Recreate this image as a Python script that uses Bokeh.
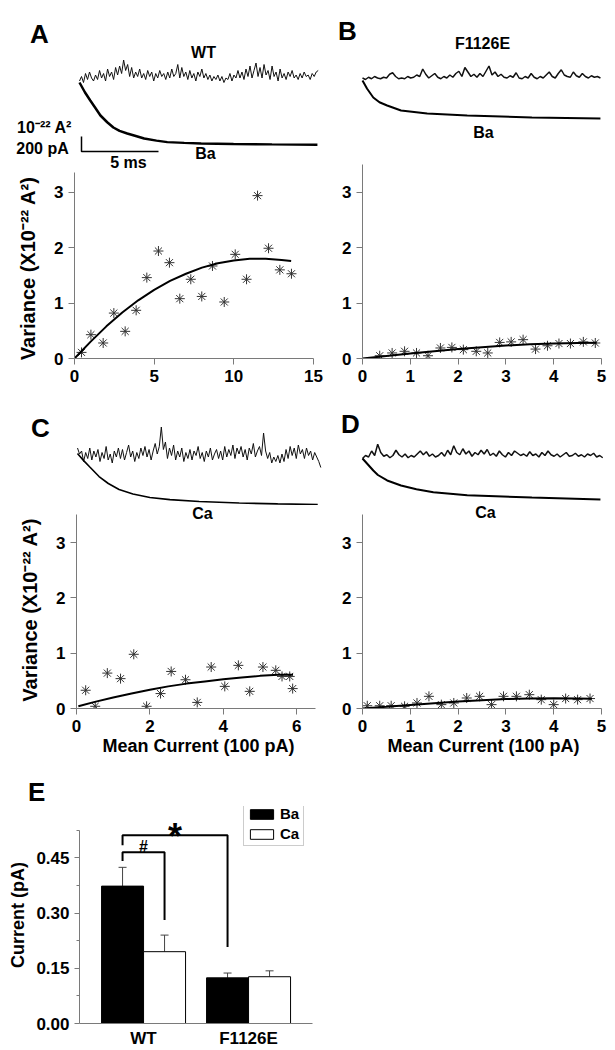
import numpy as np
from bokeh.plotting import figure
from bokeh.layouts import column, row
from bokeh.models import (Range1d, FixedTicker, Label, Whisker, TeeHead, ColumnDataSource,
                          Legend, LegendItem, PrintfTickFormatter, Div)
from bokeh.embed import file_html
from bokeh.resources import INLINE

FONT = "Liberation Sans"

# ---------------- data: variance vs mean current ----------------
A_mean = [0.44, 1.03, 1.80, 2.47, 3.18, 3.87, 4.54, 5.27, 5.96, 6.61, 7.30, 7.99, 8.66, 9.40, 10.09, 10.80, 11.49, 12.18, 12.89, 13.62]
A_var = [0.11, 0.43, 0.28, 0.82, 0.49, 0.87, 1.46, 1.94, 1.73, 1.08, 1.43, 1.12, 1.67, 1.02, 1.88, 1.43, 2.94, 1.99, 1.60, 1.53]
A_fit_x = [0, 1, 2, 3, 4, 5, 6, 7, 8, 9, 10, 11, 12, 13, 13.6]
A_fit_y = [0, 0.30, 0.58, 0.83, 1.05, 1.24, 1.40, 1.53, 1.64, 1.72, 1.77, 1.80, 1.80, 1.78, 1.76]

B_mean = [0.36, 0.62, 0.88, 1.13, 1.37, 1.63, 1.87, 2.11, 2.38, 2.62, 2.87, 3.11, 3.36, 3.62, 3.87, 4.11, 4.35, 4.62, 4.87]
B_var = [0.05, 0.10, 0.13, 0.10, 0.05, 0.19, 0.20, 0.16, 0.13, 0.10, 0.29, 0.30, 0.34, 0.17, 0.23, 0.27, 0.27, 0.30, 0.28]
B_fit_x = [0, 0.5, 1, 1.5, 2, 2.5, 3, 3.5, 4, 4.5, 4.9]
B_fit_y = [0, 0.045, 0.09, 0.13, 0.17, 0.205, 0.235, 0.255, 0.27, 0.28, 0.285]

C_mean = [0.25, 0.51, 0.84, 1.20, 1.56, 1.91, 2.29, 2.58, 2.97, 3.29, 3.67, 4.04, 4.41, 4.72, 5.08, 5.43, 5.60, 5.81, 5.89]
C_var = [0.33, 0.04, 0.64, 0.54, 0.98, 0.04, 0.27, 0.67, 0.52, 0.11, 0.75, 0.40, 0.78, 0.31, 0.75, 0.69, 0.58, 0.58, 0.36]
C_fit_x = [0.05, 0.5, 1, 1.5, 2, 2.5, 3, 3.5, 4, 4.5, 5, 5.5, 5.9]
C_fit_y = [0.04, 0.12, 0.20, 0.27, 0.34, 0.40, 0.45, 0.49, 0.53, 0.56, 0.59, 0.61, 0.61]

D_mean = [0.10, 0.36, 0.60, 0.88, 1.14, 1.39, 1.65, 1.91, 2.18, 2.45, 2.70, 2.95, 3.22, 3.49, 3.74, 4.00, 4.25, 4.50, 4.76]
D_var = [0.05, 0.05, 0.05, 0.04, 0.10, 0.22, 0.07, 0.10, 0.19, 0.22, 0.07, 0.22, 0.22, 0.25, 0.16, 0.07, 0.18, 0.16, 0.18]
D_fit_x = [0, 0.5, 1, 1.5, 2, 2.5, 3, 3.5, 4, 4.5, 4.8]
D_fit_y = [0, 0.03, 0.065, 0.095, 0.125, 0.15, 0.17, 0.18, 0.185, 0.18, 0.175]

# ---------------- data: example traces ----------------
# mean current traces (time in ms, current in pA)
A_cur_t = [0, 0.35, 0.7, 1.0, 1.36, 1.8, 2.2, 2.6, 3.1, 3.6, 4.2, 5.0, 5.7, 6.8, 7.9, 10.0, 12.5, 15.45]
A_cur_i = [0, -130, -240, -330, -440, -530, -600, -645, -680, -710, -747, -775, -795, -805, -813, -820, -825, -830]
B_cur_t = [0, 0.3, 0.7, 1.1, 1.6, 2.5, 4.2, 6.8, 11.0, 15.45]
B_cur_i = [0, -110, -227, -290, -333, -400, -440, -467, -493, -507]
C_cur_t = [0, 0.4, 0.8, 1.4, 2.0, 2.7, 3.6, 4.7, 6.0, 7.9, 10.5, 13.0, 15.6]
C_cur_i = [0, -95, -180, -307, -400, -480, -540, -587, -615, -640, -660, -672, -680]
D_cur_t = [0, 0.7, 1.0, 1.6, 2.5, 3.5, 4.6, 6.8, 11.0, 15.45]
D_cur_i = [0, -160, -220, -293, -360, -410, -450, -490, -520, -547]

# variance traces (10^-22 A^2), equally sampled over the trace duration (ms)
A_var_dur = 15.5
A_var_trace = [1.3, 1.6, 1.2, 1.8, 1.4, 1.9, 1.5, 1.3, 1.7, 1.4,
               2.0, 1.5, 1.8, 1.3, 2.1, 1.6, 1.9, 1.4, 2.2, 1.7,
               2.3, 1.8, 2.7, 2.0, 2.4, 1.6, 2.2, 1.5, 1.9, 1.6,
               2.1, 1.5, 1.8, 1.4, 2.0, 1.6, 1.9, 1.3, 1.8, 1.5,
               2.0, 1.6, 1.8, 1.4, 1.9, 1.5, 2.1, 1.6, 1.8, 2.4,
               1.5, 2.2, 1.6, 1.9, 1.4, 2.0, 1.5, 1.8, 1.3, 1.9,
               1.6, 2.1, 1.5, 1.8, 1.4, 1.7, 1.3, 1.6, 1.4, 1.7,
               1.3, 1.6, 1.2, 1.5, 1.4, 1.8, 1.3, 1.7, 1.5, 2.0,
               1.5, 1.9, 1.4, 2.1, 1.6, 2.3, 1.5, 2.0, 2.5, 1.6,
               2.2, 1.5, 2.4, 1.7, 2.0, 1.4, 2.3, 1.6, 1.9, 1.3,
               2.1, 1.5, 1.8, 1.4, 1.9, 1.6, 2.0, 1.5, 1.7, 1.4,
               1.8, 1.5, 1.9, 1.6, 1.7, 1.4, 1.8, 1.6, 1.9, 2.0]
B_var_dur = 15.45
B_var_trace = [1.5, 1.4, 1.55, 1.45, 1.6, 1.5, 1.45, 1.55, 1.5, 1.75,
               1.85, 1.6, 1.45, 1.5, 1.45, 1.6, 1.5, 1.55, 1.7, 1.6,
               2.1, 1.75, 1.5, 1.65, 1.8, 1.55, 1.45, 1.6, 1.5, 1.7,
               1.55, 1.8, 1.95, 1.6, 2.2, 1.9, 1.6, 1.75, 1.55, 1.8,
               1.6, 1.95, 2.3, 1.7, 1.9, 1.6, 1.75, 1.55, 1.5, 1.65,
               1.55, 1.85, 1.5, 1.45, 1.6, 1.5, 1.8, 1.55, 1.45, 1.6,
               1.5, 1.7, 1.9, 1.6, 1.5, 1.8, 2.05, 1.7, 1.6, 1.55,
               1.9, 1.65, 1.55, 1.8, 1.6, 1.5, 1.65, 1.55, 1.6, 1.5]
C_var_dur = 15.8
C_var_trace = [1.5, 1.1, 1.3, 0.6, 1.2, 0.8, 1.5, 0.7, 1.3, 0.9,
               1.4, 0.6, 1.2, 0.8, 1.6, 0.7, 1.1, 0.5, 1.3, 0.9,
               1.5, 0.8, 1.4, 0.7, 1.2, 1.7, 0.9, 1.3, 0.6, 1.2,
               0.8, 1.5, 1.0, 1.6, 0.9, 1.4, 0.7, 1.3, 1.8, 1.1,
               1.6, 2.9, 1.4, 1.9, 0.8, 1.5, 1.0, 1.7, 0.7, 1.3,
               0.9, 1.5, 0.6, 1.2, 0.8, 1.4, 0.7, 1.3, 1.0, 1.6,
               0.8, 1.2, 0.6, 1.3, 0.9, 1.5, 0.7, 1.1, 1.4, 0.8,
               1.3, 0.7, 1.6, 0.9, 1.4, 1.0, 1.7, 0.8, 1.5, 1.1,
               1.6, 0.9, 1.4, 0.7, 1.5, 1.1, 1.8, 0.9, 1.3, 1.6,
               1.0, 2.5, 1.3, 0.8, 1.2, 0.5, 0.9, 0.6, 1.0, 0.5,
               1.1, 0.6, 1.4, 0.8, 1.6, 1.0, 1.5, 0.8, 1.7, 1.1,
               1.4, 0.8, 1.5, 1.0, 1.3, 0.7, 1.2, 0.9, 0.6, 0.2]
D_var_dur = 15.6
D_var_trace = [0.8, 1.0, 0.9, 1.3, 1.0, 1.75, 1.2, 0.95, 1.05, 0.85,
               1.0, 1.35, 1.05, 0.9, 1.1, 0.85, 1.0, 0.9, 1.1, 1.3,
               1.05, 1.25, 0.95, 1.1, 0.9, 1.0, 1.2, 0.95, 1.35, 1.05,
               1.65, 1.2, 1.05, 1.45, 1.1, 1.3, 0.95, 1.2, 1.05, 1.35,
               1.1, 1.4, 1.0, 1.15, 0.95, 1.3, 1.05, 0.9, 1.2, 1.0,
               1.3, 1.15, 1.0, 1.1, 0.95, 1.25, 1.0, 1.1, 0.9, 1.2,
               1.0, 1.3, 1.05, 0.95, 1.1, 0.9, 1.05, 1.2, 0.95, 1.0,
               1.15, 0.95, 1.05, 0.9, 1.1, 1.0, 1.15, 0.9, 1.0, 0.85]

SCALE_MS = 5
SCALE_PA = 200

# ---------------- data: panel E ----------------
E_groups = ["WT", "F1126E"]
E_ba_mean = [0.373, 0.124]
E_ba_sem = [0.051, 0.013]
E_ca_mean = [0.195, 0.127]
E_ca_sem = [0.045, 0.016]

# ---------------- geometry / style ----------------
MS_PX = 15.4      # px per ms in trace insets
PA_PX = 0.075     # px per pA
VAR_PX = 15.0     # px per 1e-22 A^2
AX_COL = "#7a7a7a"


def base_fig(fw, fh, xr, yr, borders, axes=True):
    bl, br, bt, bb = borders
    kw = {}
    if not axes:
        kw = dict(x_axis_type=None, y_axis_type=None)
    p = figure(width=fw, height=fh, x_range=xr, y_range=yr,
               min_border_left=bl, min_border_right=br, min_border_top=bt, min_border_bottom=bb,
               output_backend="svg", toolbar_location=None, tools="", **kw)
    p.outline_line_color = None
    p.background_fill_color = "white"
    p.border_fill_color = "white"
    if axes:
        p.xgrid.visible = False
        p.ygrid.visible = False
    return p


def make_panel(fig_box, frame_box, xppu, yppu, x_start=0.0, y_start=0.0):
    fx, fy, fw, fh = fig_box
    L, R, T, B = frame_box
    p = base_fig(fw, fh, Range1d(x_start, x_start + (R - L) / xppu),
                 Range1d(y_start, y_start + (B - T) / yppu),
                 (L - fx, fx + fw - R, T - fy, fy + fh - B))
    g = dict(L=L, B=B, xppu=xppu, yppu=yppu, x0=x_start, y0=y_start)
    return p, g


def trace_fig(fig_box, t0_px, cur0_py, var0_py):
    fx, fy, fw, fh = fig_box
    L, R, T, B = fx, fx + fw, fy, fy + fh
    xs, xe = -(t0_px - L) / MS_PX, (R - t0_px) / MS_PX
    ys, ye = -(B - cur0_py) / PA_PX, (cur0_py - T) / PA_PX
    p = base_fig(fw, fh, Range1d(xs, xe), Range1d(ys, ye), (0, 0, 0, 0), axes=False)
    p.extra_y_ranges = {"var": Range1d(-(B - var0_py) / VAR_PX, (var0_py - T) / VAR_PX)}
    g = dict(L=L, B=B, xppu=MS_PX, yppu=PA_PX, x0=xs, y0=ys)
    return p, g


def draw_traces(p, cur_t, cur_i, var_vals, var_dur, cur_w, var_w):
    vt = np.linspace(0, var_dur, len(var_vals))
    p.line(vt, var_vals, y_range_name="var", line_color="#111111", line_width=var_w)
    p.line(cur_t, cur_i, line_color="black", line_width=cur_w)


def style_axes(p, tick_size="17px"):
    for ax in p.axis:
        ax.axis_line_color = AX_COL
        ax.axis_line_width = 1
        ax.major_tick_line_color = AX_COL
        ax.minor_tick_line_color = AX_COL
        ax.major_tick_in = 0
        ax.major_tick_out = 6
        ax.minor_tick_in = 0
        ax.minor_tick_out = 0
        ax.major_label_text_font = FONT
        ax.major_label_text_font_style = "bold"
        ax.major_label_text_font_size = tick_size
        ax.major_label_text_color = "black"
        ax.major_label_standoff = 5
        ax.axis_label_text_font = FONT
        ax.axis_label_text_font_style = "bold"
        ax.axis_label_text_color = "black"


def label(p, g, text, px, py, size, align="center"):
    x = g["x0"] + (px - g["L"]) / g["xppu"]
    y = g["y0"] + (g["B"] - py) / g["yppu"]
    p.add_layout(Label(x=x, y=y, text=text, text_align=align, text_baseline="middle",
                       text_font=FONT, text_font_size=f"{size}px", text_font_style="bold",
                       text_color="black"))


def scatter_panel(p, xs, ys, fx, fy, xticks, xbound):
    p.scatter(xs, ys, marker="asterisk", size=10, line_color="#333333", line_width=1)
    p.line(fx, fy, line_color="black", line_width=2)
    p.xaxis.ticker = FixedTicker(ticks=xticks, minor_ticks=[])
    p.xaxis.bounds = (0, xbound)
    p.yaxis.ticker = FixedTicker(ticks=[0, 1, 2, 3], minor_ticks=[])
    p.yaxis.bounds = (0, 3.5)
    style_axes(p)


YLAB = "Variance  (X10\u207b\u00b2\u00b2 A\u00b2)"
XLAB = "Mean Current (100 pA)"

# ---- Panel A ----
tA, gtA = trace_fig((0, 0, 330, 172), 79, 82, 100)
draw_traces(tA, A_cur_t, A_cur_i, A_var_trace, A_var_dur, 2.5, 1)
sb_t0, sb_i0 = 0.13, -920
tA.line([sb_t0, sb_t0, sb_t0 + SCALE_MS], [sb_i0 + SCALE_PA, sb_i0, sb_i0],
        line_color="black", line_width=1.5)
label(tA, gtA, "A", 39, 33, 26)
label(tA, gtA, "WT", 203, 52, 16)
label(tA, gtA, "10\u207b\u00b2\u00b2 A\u00b2", 44, 127, 16)
label(tA, gtA, "200 pA", 42, 148, 16)
label(tA, gtA, "Ba", 205, 153, 16)
label(tA, gtA, "5 ms", 128, 162, 16)

pA, gA = make_panel((0, 172, 330, 226), (74, 320, 172, 358), 15.93, 55.4)
scatter_panel(pA, A_mean, A_var, A_fit_x, A_fit_y, [0, 5, 10, 15], 15)
pA.yaxis.axis_label = YLAB
pA.yaxis.axis_label_text_font_size = "20px"
pA.yaxis.axis_label_standoff = 12

# ---- Panel B ----
tB, gtB = trace_fig((330, 0, 285, 160), 362, 80, 100)
draw_traces(tB, B_cur_t, B_cur_i, B_var_trace, B_var_dur, 2, 1.5)
label(tB, gtB, "B", 347, 30, 26)
label(tB, gtB, "F1126E", 482, 43, 16)
label(tB, gtB, "Ba", 483, 132, 16)

pB, gB = make_panel((330, 160, 285, 238), (362, 604, 160, 358), 47.8, 55.4)
scatter_panel(pB, B_mean, B_var, B_fit_x, B_fit_y, [0, 1, 2, 3, 4, 5], 5)

# ---- Panel C ----
tC, gtC = trace_fig((0, 398, 330, 107), 77, 453, 470)
draw_traces(tC, C_cur_t, C_cur_i, C_var_trace, C_var_dur, 1.6, 1)
label(tC, gtC, "C", 40, 427, 26)

pC, gC = make_panel((0, 505, 330, 263), (76, 320, 505, 708), 36.7, 55.3)
scatter_panel(pC, C_mean, C_var, C_fit_x, C_fit_y, [0, 2, 4, 6], 6.5)
pC.yaxis.axis_label = YLAB
pC.yaxis.axis_label_text_font_size = "20px"
pC.yaxis.axis_label_standoff = 12
pC.xaxis.axis_label = XLAB
pC.xaxis.axis_label_text_font_size = "18px"
pC.xaxis.axis_label_standoff = 1
label(pC, gC, "Ca", 202, 513, 16)

# ---- Panel D ----
tD, gtD = trace_fig((330, 398, 285, 107), 362, 458, 470)
draw_traces(tD, D_cur_t, D_cur_i, D_var_trace, D_var_dur, 2, 1.5)
label(tD, gtD, "D", 350, 423, 26)

pD, gD = make_panel((330, 505, 285, 263), (362, 604, 505, 708), 47.8, 55.3)
scatter_panel(pD, D_mean, D_var, D_fit_x, D_fit_y, [0, 1, 2, 3, 4, 5], 5)
pD.xaxis.axis_label = XLAB
pD.xaxis.axis_label_text_font_size = "18px"
pD.xaxis.axis_label_standoff = 1
label(pD, gD, "Ca", 485, 512, 16)

# ---- Panel E ----
divE = Div(text=("<div style=\"margin:11px 0 0 28px; font-family:'Liberation Sans'; "
                 "font-weight:bold; font-size:26px; line-height:26px; color:black;\">E</div>"),
           width=330, height=38, margin=0)

pE, gE = make_panel((0, 806, 330, 244), (79, 312, 806, 1024), 105.0, 370.0, x_start=0.39)
grp_x = [1, 2]
off = 0.2
ba_x = [x - off for x in grp_x]
ca_x = [x + off for x in grp_x]
r_ba = pE.vbar(x=ba_x, top=E_ba_mean, width=0.4, fill_color="black", line_color="black", line_width=1)
r_ca = pE.vbar(x=ca_x, top=E_ca_mean, width=0.4, fill_color="white", line_color="black", line_width=1)
err = ColumnDataSource(dict(base=ba_x + ca_x, lower=E_ba_mean + E_ca_mean,
                            upper=[m + s for m, s in zip(E_ba_mean + E_ca_mean, E_ba_sem + E_ca_sem)]))
pE.add_layout(Whisker(source=err, base="base", lower="lower", upper="upper", dimension="height",
                      line_color="#444444", line_width=1, lower_head=None,
                      upper_head=TeeHead(size=8, line_color="#444444", line_width=1)))
# significance brackets
h_hash, h_star = 0.465, 0.511
pE.line([ba_x[0], ba_x[0], ca_x[0], ca_x[0]], [0.441, h_hash, h_hash, 0.281],
        line_color="black", line_width=2)
pE.line([ba_x[0], ba_x[0], ba_x[1], ba_x[1]], [0.484, h_star, h_star, 0.208],
        line_color="black", line_width=2)
pE.add_layout(Label(x=(ba_x[0] + ca_x[0]) / 2, y=h_hash + 0.016, text="#", text_align="center",
                    text_baseline="middle", text_font=FONT, text_font_size="16px",
                    text_font_style="bold", text_color="black"))
pE.add_layout(Label(x=(ba_x[0] + ba_x[1]) / 2, y=h_star - 0.003, text="*", text_align="center",
                    text_baseline="middle", text_font=FONT, text_font_size="36px",
                    text_font_style="bold", text_color="black"))
pE.xaxis.ticker = FixedTicker(ticks=grp_x, minor_ticks=[])
pE.xaxis.major_label_overrides = {grp_x[0]: E_groups[0], grp_x[1]: E_groups[1]}
pE.yaxis.ticker = FixedTicker(ticks=[0, 0.15, 0.30, 0.45], minor_ticks=[0.075, 0.225, 0.375, 0.525])
pE.yaxis.formatter = PrintfTickFormatter(format="%.2f")
pE.yaxis.bounds = (0, 0.525)
style_axes(pE)
pE.xaxis.major_tick_out = 0
pE.xaxis.major_label_standoff = 5
pE.yaxis.major_tick_out = 5
pE.yaxis.minor_tick_out = 3
pE.yaxis.axis_label = "Current (pA)"
pE.yaxis.axis_label_text_font_size = "18px"
pE.yaxis.axis_label_standoff = 5
leg = Legend(items=[LegendItem(label="Ba", renderers=[r_ba]), LegendItem(label="Ca", renderers=[r_ca])],
             location=(164, 177), orientation="vertical", margin=0, padding=3, spacing=3,
             glyph_width=29, glyph_height=12, label_standoff=4, label_height=16,
             label_text_font=FONT, label_text_font_size="15px", label_text_font_style="bold",
             label_text_color="black",
             border_line_color="#999999", border_line_width=1, background_fill_color="white",
             background_fill_alpha=1.0)
pE.add_layout(leg)

left = column(row(tA), row(pA), row(tC), row(pC), row(divE), row(pE))
right = column(row(tB), row(pB), row(tD), row(pD))
layout = row(left, right)
open("out.html", "w").write(file_html(layout, INLINE))
